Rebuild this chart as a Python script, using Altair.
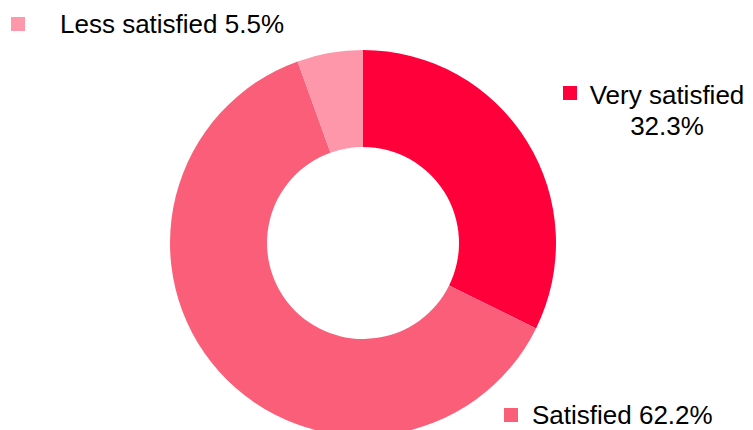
import altair as alt
import pandas as pd

categories = ["Very satisfied", "Satisfied", "Less satisfied"]
shares = [32.3, 62.2, 5.5]
colors = ["#FF003B", "#FA5E78", "#FF97AA"]

df = pd.DataFrame({"category": categories, "share": shares, "order": list(range(len(categories)))})

color_scale = alt.Scale(domain=categories, range=colors)

cx, cy = 355, 235

donut = alt.Chart(df).mark_arc(innerRadius=96, outerRadius=193, stroke=None).encode(
    theta=alt.Theta("share:Q", stack=True),
    color=alt.Color("category:N", scale=color_scale, legend=None),
    order=alt.Order("order:Q"),
    x=alt.value(cx),
    y=alt.value(cy),
)

FONT = "Liberation Sans"
FS = 26

def label_layer(cat, lines, mx, my, tx, ty, align="left", line_gap=31):
    sub = df[df["category"] == cat]
    layers = [
        alt.Chart(sub).mark_point(shape="square", filled=True, size=196, opacity=1, strokeWidth=0).encode(
            x=alt.value(mx), y=alt.value(my),
            color=alt.Color("category:N", scale=color_scale, legend=None),
        )
    ]
    for i, line in enumerate(lines):
        layers.append(
            alt.Chart(sub).mark_text(
                font=FONT, fontSize=FS, color="black", align=align, baseline="alphabetic"
            ).encode(
                x=alt.value(tx), y=alt.value(ty + i * line_gap),
                text=alt.value(line),
            )
        )
    return layers

pct = {c: s for c, s in zip(categories, shares)}

layers = [donut]
layers += label_layer("Less satisfied", [f"Less satisfied {pct['Less satisfied']}%"], 10, 16, 52, 25)
layers += label_layer("Very satisfied", ["Very satisfied", f"{pct['Very satisfied']}%"], 562, 85, 659, 95.5, align="center", line_gap=31.5)
layers += label_layer("Satisfied", [f"Satisfied {pct['Satisfied']}%"], 503, 407, 524, 416)

chart = alt.layer(*layers).properties(
    width=737, height=422,
    autosize=alt.AutoSizeParams(type="none"),
    padding=0,
).configure_view(stroke=None)

chart.save("out.html", embed_options={"renderer": "svg", "actions": False})
